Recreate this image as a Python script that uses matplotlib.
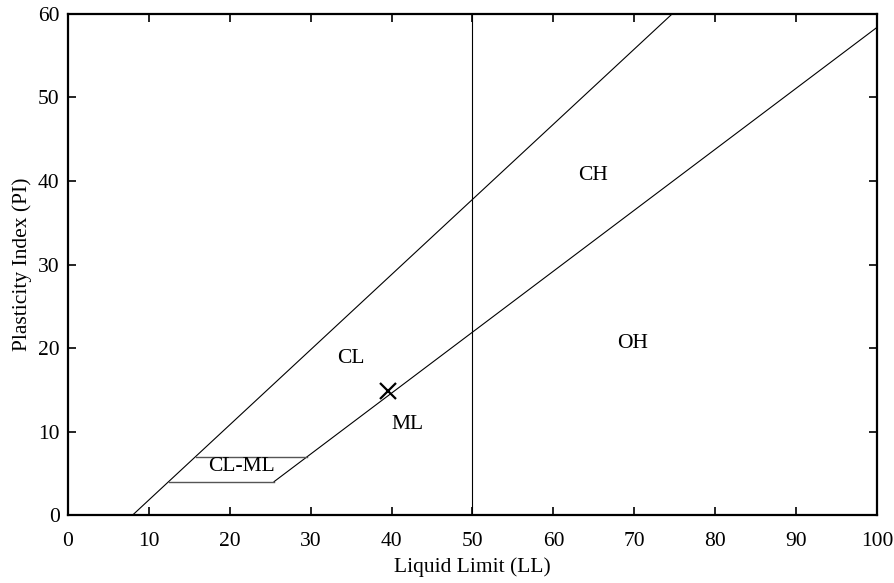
import matplotlib.pyplot as plt

plt.rcParams['font.family'] = ['Liberation Serif', 'DejaVu Serif']

# U-line, A-line and the LL=50 divider
u_ll = [8.0, 74.67]
u_pi = [0.0, 60.0]
a_ll = [25.48, 100.0]
a_pi = [4.0, 58.4]
v_ll = [50, 50]
v_pi = [0, 60]

# CL-ML band limits
band_lo_ll = [12.44, 25.48]
band_lo_pi = [4, 4]
band_hi_ll = [15.78, 29.59]
band_hi_pi = [7, 7]

# sample point
pt_ll = [39.6]
pt_pi = [14.9]

zone_names = ['CH', 'OH', 'CL', 'ML', 'CL-ML']
zone_ll = [64.9, 69.8, 35.0, 42.0, 21.4]
zone_pi = [40.6, 20.6, 18.8, 10.8, 5.8]

fig = plt.figure(figsize=(8.94, 5.83), dpi=100)
ax = fig.add_axes([0.076, 0.1166, 0.905, 0.8594])

ax.plot(u_ll, u_pi, 'k-', linewidth=0.8)
ax.plot(a_ll, a_pi, 'k-', linewidth=0.8)
ax.plot(v_ll, v_pi, 'k-', linewidth=0.8)
ax.plot(band_lo_ll, band_lo_pi, '-', color='#555555', linewidth=1.0)
ax.plot(band_hi_ll, band_hi_pi, '-', color='#555555', linewidth=1.0)
ax.plot(pt_ll, pt_pi, 'kx', markersize=11, markeredgewidth=1.6)

for name, x, y in zip(zone_names, zone_ll, zone_pi):
    ax.text(x, y, name, fontsize=15.5, ha='center', va='center')

ax.set_xlim(0, 100)
ax.set_ylim(0, 60)
ax.set_xticks(range(0, 101, 10))
ax.set_yticks(range(0, 61, 10))
ax.tick_params(direction='in', top=True, right=True, length=6, width=1.2,
               labelsize=15.5)
ax.tick_params(axis='x', pad=12)
ax.tick_params(axis='y', pad=6)
for s in ax.spines.values():
    s.set_linewidth(1.6)

ax.set_xlabel('Liquid Limit (LL)', fontsize=15.5, labelpad=5)
ax.set_ylabel('Plasticity Index (PI)', fontsize=15.5, labelpad=4)

fig.savefig('out.png', dpi=100)
